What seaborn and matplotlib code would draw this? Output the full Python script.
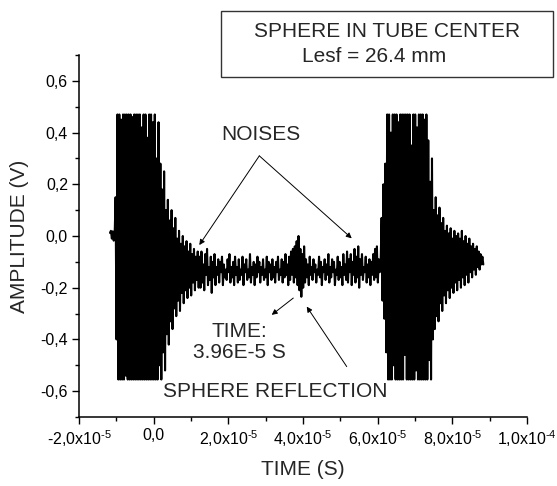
import numpy as np
import pandas as pd
import matplotlib
matplotlib.use("Agg")
import matplotlib.pyplot as plt
from matplotlib.ticker import MultipleLocator
from matplotlib.patches import Rectangle
import seaborn as sns

# ---------------- data ----------------
T_START = -1.17e-5          # first sample time (s)
DT = 0.25e-6                # sample interval (s)

pre_signal = [0.012, 0.020, -0.010, 0.018, -0.018, 0.005]

left_burst_lead = [0.15, -0.40]
left_burst_clip = [0.47, -0.555, 0.47, -0.555, 0.45, -0.555, 0.47, -0.555, 0.47, -0.54,
                   0.47, -0.555, 0.47, -0.555, 0.47, -0.555, 0.46, -0.555, 0.47, -0.555,
                   0.47, -0.555, 0.47, -0.555, 0.47, -0.555, 0.42, -0.555, 0.47, -0.555,
                   0.47, -0.555, 0.38, -0.555, 0.47, -0.555, 0.47, -0.555, 0.44, -0.555]
left_burst_decay = [0.47, -0.555, 0.30, -0.555, 0.44, -0.50, 0.28, -0.555, 0.18, -0.45,
                    0.25, -0.52, 0.10, -0.38, 0.14, -0.42, 0.06, -0.33, 0.10, -0.36,
                    0.03, -0.28, 0.07, -0.31, -0.01, -0.25, 0.02, -0.29, -0.03, -0.22,
                    0.00, -0.26, -0.04, -0.21, -0.02, -0.24, -0.06, -0.20, -0.03, -0.23,
                    -0.07, -0.18, -0.05, -0.21, -0.08, -0.17, -0.06, -0.20]

noise = [
    -0.08, -0.20, -0.06, -0.18, -0.11, -0.21, -0.07, -0.15, -0.05, -0.19, -0.12, -0.17, -0.08, -0.22, -0.10,
    -0.16, -0.07, -0.19, -0.12, -0.15, -0.09, -0.18, -0.10, -0.14, -0.08, -0.19, -0.11, -0.16, -0.13, -0.17,
    -0.09, -0.14, -0.07, -0.18, -0.12, -0.16, -0.10, -0.19, -0.08, -0.15, -0.12, -0.18, -0.09, -0.17, -0.13,
    -0.15, -0.08, -0.19, -0.11, -0.14, -0.09, -0.17, -0.13, -0.16, -0.07, -0.18, -0.12, -0.15, -0.10, -0.19,
    -0.11, -0.16, -0.08, -0.14, -0.10, -0.18, -0.12, -0.15, -0.09, -0.17, -0.13, -0.16, -0.08, -0.19, -0.10,
    -0.14, -0.11, -0.17, -0.09, -0.16, -0.12, -0.18, -0.10, -0.14, -0.08, -0.17, -0.13, -0.15, -0.09, -0.18,
    -0.10, -0.16, -0.07, -0.15, -0.11, -0.19, -0.08, -0.17, -0.06, -0.15, -0.05, -0.18, -0.04, -0.16, -0.02,
    -0.19, 0.00, -0.21, -0.05, -0.235, -0.07, -0.20, -0.04, -0.18, -0.09, -0.16, -0.11, -0.19, -0.08, -0.15,
    -0.12, -0.17, -0.09, -0.14, -0.11, -0.18, -0.13, -0.15, -0.08, -0.16, -0.10, -0.19, -0.12, -0.14, -0.09,
    -0.17, -0.11, -0.15, -0.07, -0.18, -0.12, -0.16, -0.09, -0.14, -0.10, -0.19, -0.13, -0.15, -0.08, -0.17,
    -0.10, -0.16, -0.12, -0.19, -0.07, -0.15, -0.11, -0.17, -0.06, -0.18, -0.09, -0.14, -0.07, -0.19, -0.10,
    -0.15, -0.05, -0.18, -0.08, -0.16, -0.04, -0.20, -0.09, -0.15, -0.07, -0.17, -0.12, -0.14, -0.08, -0.18,
    -0.11, -0.16, -0.09, -0.19, -0.10, -0.15, -0.07, -0.17, -0.05, -0.16, -0.04, -0.18, -0.09, -0.14, -0.10,
]

right_burst_lead = [0.07, -0.25, 0.20, -0.32, 0.28, -0.45]
right_burst_clip = [0.47, -0.555, 0.47, -0.555, 0.40, -0.555, 0.47, -0.50, 0.47, -0.555,
                    0.47, -0.555, 0.44, -0.555, 0.47, -0.555, 0.47, -0.555, 0.47, -0.46,
                    0.47, -0.555, 0.47, -0.555, 0.47, -0.555, 0.35, -0.555, 0.47, -0.555,
                    0.47, -0.52, 0.42, -0.555, 0.47, -0.555, 0.47, -0.555, 0.47, -0.555,
                    0.45, -0.555]
right_burst_decay = [0.47, -0.555, 0.37, -0.48, 0.21, -0.555, 0.30, -0.40, 0.10, -0.36,
                     0.15, -0.31, 0.08, -0.33, 0.11, -0.26, 0.05, -0.29, 0.07, -0.23,
                     0.02, -0.26, 0.04, -0.21, 0.01, -0.24, 0.03, -0.20, -0.01, -0.22,
                     0.02, -0.18, 0.00, -0.21, 0.01, -0.17, -0.01, -0.20, 0.02, -0.16,
                     -0.02, -0.19, 0.00, -0.15, -0.03, -0.18, -0.01, -0.14, -0.04, -0.16,
                     -0.03, -0.13, -0.05, -0.15, -0.04, -0.12, -0.06, -0.13, -0.07, -0.11,
                     -0.08, -0.11]

x_tick_values = [-2e-5, 0.0, 2e-5, 4e-5, 6e-5, 8e-5, 1e-4]
x_tick_labels = [r"-2,0x10$^{\text{-}5}$", "0,0", r"2,0x10$^{\text{-}5}$",
                 r"4,0x10$^{\text{-}5}$", r"6,0x10$^{\text{-}5}$",
                 r"8,0x10$^{\text{-}5}$", r"1,0x10$^{\text{-}4}$"]
y_tick_values = [-0.6, -0.4, -0.2, 0.0, 0.2, 0.4, 0.6]
y_tick_labels = ["-0,6", "-0,4", "-0,2", "0,0", "0,2", "0,4", "0,6"]

amplitude = (pre_signal + left_burst_lead + left_burst_clip + left_burst_decay
             + noise + right_burst_lead + right_burst_clip + right_burst_decay)
time = T_START + DT * np.arange(len(amplitude))
df = pd.DataFrame({"time": time, "amplitude": amplitude})

# ---------------- style ----------------
sns.set_style("ticks")
plt.rcParams["font.family"] = ["Liberation Sans", "DejaVu Sans"]
plt.rcParams["mathtext.fontset"] = "custom"
plt.rcParams["mathtext.rm"] = "Liberation Sans"
plt.rcParams["mathtext.it"] = "Liberation Sans:italic"
plt.rcParams["mathtext.bf"] = "Liberation Sans:bold"
plt.rcParams["axes.unicode_minus"] = False

fig = plt.figure(figsize=(5.57, 4.86), dpi=100)
ax = fig.add_axes([79 / 557, 1 - 417 / 486, 448 / 557, 362 / 486])

sns.lineplot(data=df, x="time", y="amplitude", ax=ax, color="black",
             linewidth=1.5, estimator=None, sort=False)

ax.set_xlim(-2e-5, 1e-4)
ax.set_ylim(-0.7, 0.7)
ax.set_xticks(x_tick_values)
ax.set_xticklabels(x_tick_labels)
ax.set_yticks(y_tick_values)
ax.set_yticklabels(y_tick_labels)
ax.xaxis.set_minor_locator(MultipleLocator(1e-5))
ax.yaxis.set_minor_locator(MultipleLocator(0.1))
ax.tick_params(which="major", direction="out", length=5, width=1.0, labelsize=11.5,
               colors="black", pad=3)
ax.tick_params(which="minor", direction="out", length=3, width=1.0, colors="black")
for s in ["top", "right"]:
    ax.spines[s].set_visible(False)
for s in ["left", "bottom"]:
    ax.spines[s].set_linewidth(1.1)
    ax.spines[s].set_color("black")

ax.set_xlabel("TIME (S)", fontsize=15, labelpad=8)
ax.set_ylabel("AMPLITUDE (V)", fontsize=15, labelpad=8)

# ---------------- annotations ----------------
arrow = dict(arrowstyle="-|>", color="black", lw=0.7, mutation_scale=8,
             shrinkA=0, shrinkB=0)
ax.text(2.87e-5, 0.394, "NOISES", fontsize=15, ha="center", va="center")
ax.annotate("", xy=(1.222e-5, -0.035), xytext=(2.83e-5, 0.31), arrowprops=arrow)
ax.annotate("", xy=(5.305e-5, -0.009), xytext=(2.83e-5, 0.31), arrowprops=arrow)

ax.text(2.286e-5, -0.411, "TIME:\n3.96E-5 S", fontsize=15, ha="center",
        va="center", multialignment="center", linespacing=1.15)
ax.annotate("", xy=(3.162e-5, -0.305), xytext=(3.74e-5, -0.24), arrowprops=arrow)

ax.text(3.25e-5, -0.60, "SPHERE REFLECTION", fontsize=15, ha="center", va="center")
ax.annotate("", xy=(4.10e-5, -0.273), xytext=(5.171e-5, -0.505), arrowprops=arrow)

# title box
fig.patches.append(Rectangle((221 / 557, 1 - 77.3 / 486), 332 / 557, 66.6 / 486,
                             transform=fig.transFigure, fill=False,
                             edgecolor="#333333", linewidth=1.0))
fig.text(387 / 557, 1 - 31.7 / 486, "SPHERE IN TUBE CENTER", fontsize=15,
         ha="center", va="center")
fig.text(373.7 / 557, 1 - 56.7 / 486, "Lesf = 26.4 mm", fontsize=15,
         ha="center", va="center")

fig.savefig("out.png", dpi=100)
